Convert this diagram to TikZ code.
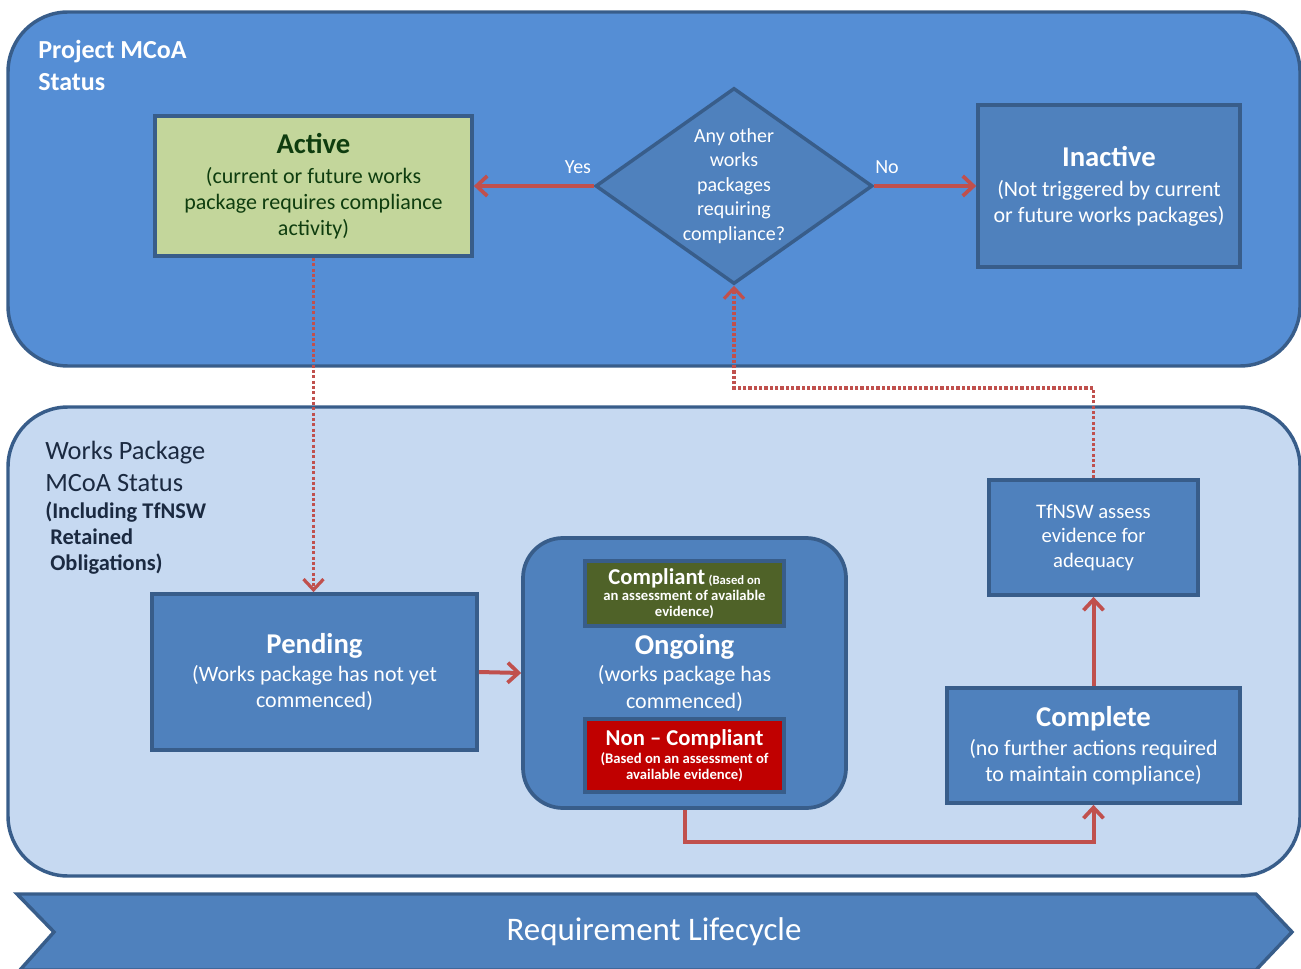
\documentclass[tikz,border=0pt]{standalone}
\usepackage{fontspec}
\setmainfont{Carlito}
\usetikzlibrary{arrows.meta,shapes.geometric}
\definecolor{panelA}{HTML}{558ED5}
\definecolor{panelB}{HTML}{C6D9F1}
\definecolor{boxblue}{HTML}{4F81BD}
\definecolor{edgeblue}{HTML}{385D8A}
\definecolor{activegreen}{HTML}{C3D69B}
\definecolor{darkgreen}{HTML}{0F3D0F}
\definecolor{olivebox}{HTML}{4F6228}
\definecolor{ncred}{HTML}{C00000}
\definecolor{arrowred}{HTML}{C0504D}
\definecolor{navytext}{HTML}{1B2A41}
\tikzset{
  panel/.style={line width=2.6pt, rounded corners=45pt},
  bluebox/.style={draw=edgeblue, fill=boxblue, line width=2.8pt, text=white, align=center,
     inner sep=0pt, font=\fontsize{16.5}{19.5}\selectfont},
  redarrow/.style={draw=arrowred, line width=3pt, -{Straight Barb[length=8pt,width=15pt,line width=2.8pt]}},
  reddot/.style={draw=arrowred, line width=2.8pt, dash pattern=on 2.4pt off 1.6pt,
     -{Straight Barb[length=8pt,width=15pt,line width=2.4pt]}},
}
\newcommand{\ttlf}{\fontsize{21.5}{24}\selectfont\bfseries}
\newcommand{\smallbf}{\fontsize{11}{13}\selectfont\bfseries}
\begin{document}
\begin{tikzpicture}[x=0.75pt,y=-0.75pt]
\useasboundingbox (0,0) rectangle (1301,969);
% panels
\draw[panel, draw=edgeblue, fill=panelA] (8,12) rectangle (1300,366);
\draw[panel, draw=edgeblue, fill=panelB] (8,407) rectangle (1300,876);
% chevron
\draw[draw=edgeblue, fill=boxblue, line width=2.6pt, line join=miter]
  (17,894) -- (1256,894) -- (1292,932) -- (1256,970) -- (20,970) -- (54,932) -- cycle;
\node[text=white, font=\fontsize{24.7}{28}\selectfont] (lifecycle) at (654,932) {Requirement Lifecycle};

% panel labels
\node[anchor=north west, align=left, inner sep=0pt, text=white,
      font=\fontsize{19.5}{24}\selectfont\bfseries] (projlbl) at (38,40) {Project MCoA\\Status};
\node[anchor=north west, align=left, inner sep=0pt, text=navytext,
      font=\fontsize{19.8}{24}\selectfont] (wplbl) at (45,441) {Works Package\\MCoA Status};
\node[anchor=north west, align=left, inner sep=0pt, text=navytext,
      font=\fontsize{16.8}{19.5}\selectfont\bfseries] (wpsub) at (45,502) {(Including TfNSW\\\ Retained\\\ Obligations)};

% top nodes
\node[bluebox, draw=edgeblue, fill=activegreen, text=darkgreen, minimum width=237.75pt, minimum height=105pt]
  (active) at (313.5,186) {{\ttlf Active}\\[3pt](current or future works\\package requires compliance\\activity)};
\node[diamond, draw=edgeblue, fill=boxblue, line width=2.6pt, inner sep=0pt,
      minimum width=207.75pt, minimum height=147pt] (dia) at (734,186) {};
\node[text=white, align=center, font=\fontsize{15}{18.3}\selectfont] (diatxt) at (734,186)
  {Any other\\works\\packages\\requiring\\compliance?};
\node[bluebox, minimum width=196.5pt, minimum height=121.5pt]
  (inactive) at (1109,186) {{\ttlf Inactive}\\[3pt](Not triggered by current\\or future works packages)};
\node[text=white, font=\fontsize{15}{18}\selectfont] (yes) at (578,167) {Yes};
\node[text=white, font=\fontsize{15}{18}\selectfont] (no) at (887,167) {No};

% lower nodes
\node[bluebox, minimum width=243.75pt, minimum height=117pt]
  (pending) at (314.5,672) {{\ttlf Pending}\\[2pt](Works package has not yet\\commenced)};
\node[draw=edgeblue, fill=boxblue, line width=2.8pt, rounded corners=30pt,
      minimum width=242.25pt, minimum height=202.5pt] (ongoing) at (684.5,673) {};
\node[text=white, align=center, inner sep=0pt, font=\fontsize{16.5}{20.5}\selectfont]
  (ongoingtxt) at (684.5,673) {{\ttlf Ongoing}\\[0pt](works package has\\commenced)};
\node[bluebox, fill=olivebox, minimum width=149.25pt, minimum height=48.75pt,
      font=\smallbf] (compliant) at (684.5,593.5)
  {{\fontsize{17}{18}\selectfont\bfseries Compliant} {\fontsize{9.5}{12}\selectfont(Based on}\\[-1pt]an assessment of available\\[-1pt]evidence)};
\node[bluebox, fill=ncred, minimum width=149.25pt, minimum height=54.75pt,
      font=\smallbf] (noncompliant) at (684.5,755.5)
  {{\fontsize{17}{18}\selectfont\bfseries Non -- Compliant}\\[1pt](Based on an assessment of\\[-1pt]available evidence)};
\node[bluebox, minimum width=156.75pt, minimum height=86.25pt, font=\fontsize{15.5}{18.5}\selectfont]
  (tfnsw) at (1093.5,537.5) {TfNSW assess\\evidence for\\adequacy};
\node[bluebox, minimum width=219.75pt, minimum height=86.25pt]
  (complete) at (1093.5,745.5) {{\ttlf Complete}\\[2pt](no further actions required\\to maintain compliance)};

% connectors
\draw[redarrow] (dia.west) -- (active.east);
\draw[redarrow] (dia.east) -- (inactive.west);
\draw[reddot] (active.south) -- (active.south |- pending.north);
\draw[reddot] (tfnsw.north) -- (tfnsw.north |- 0,388) -| (dia.south);
\draw[redarrow] (pending.east) -- (ongoing.west);
\draw[redarrow] (complete.north) -- (tfnsw.south);
\draw[redarrow] (ongoing.south) -- ++(0,32) -| (complete.south);
\end{tikzpicture}
\end{document}
